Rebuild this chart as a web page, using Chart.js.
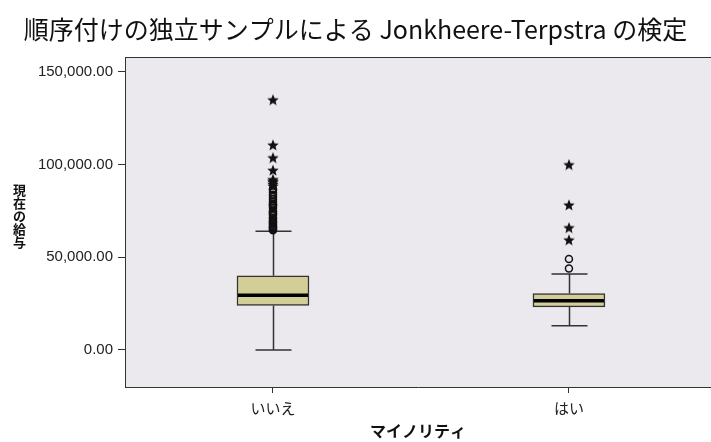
<!DOCTYPE html>
<html lang="ja">
<head>
<meta charset="utf-8">
<title>Jonkheere-Terpstra の検定</title>
<script src="https://cdn.jsdelivr.net/npm/chart.js@4.4.1/dist/chart.umd.min.js"></script>
<style>
  body { margin: 0; background: #fff; }
  #chart { display: block; }
</style>
</head>
<body>
<canvas id="chart" width="711" height="442"></canvas>
<script>
// values
const categories = ['いいえ', 'はい'];
const q1 = [24000, 23200];
const medians = [29500, 26500];
const q3 = [40000, 30400];
const whiskerLow = [0, 13000];
const whiskerHigh = [64000, 40900];
const circleOutliers = [
    [86750, 86250, 85000, 83750, 82500, 81250, 80000, 79000, 78250, 78125,
     77500, 76500, 75000, 74500, 73750, 73500, 72500, 71250, 71000, 70000,
     69250, 68750, 68125, 67500, 66875, 66250, 66000, 65500, 65000, 64500],
    [49000, 43900]
];
const starOutliers = [
    [135000, 110625, 103750, 97000, 92000, 91250, 90625, 89500, 88500],
    [100000, 78250, 66000, 59400]
];
const yTicks = [0, 50000, 100000, 150000];

const titleText = '順序付けの独立サンプルによる Jonkheere-Terpstra の検定';
const yTitle = '現在の給与';
const xTitle = 'マイノリティ';

const JP = "'Noto Sans CJK JP', sans-serif";
const BOX_WIDTH = 72;

// filled five-point star used as the extreme marker
function makeStar(size) {
    const c = document.createElement('canvas');
    c.width = size;
    c.height = size;
    const g = c.getContext('2d');
    const r = size / 2, ri = r * 0.45;
    g.beginPath();
    for (let k = 0; k < 10; k++) {
        const rad = k % 2 ? ri : r;
        const ang = -Math.PI / 2 + k * Math.PI / 5;
        g.lineTo(r + rad * Math.cos(ang), r + 0.6 + rad * Math.sin(ang));
    }
    g.closePath();
    g.fillStyle = '#111';
    g.fill();
    return c;
}
const starImg = makeStar(12);

const toPoints = (groups) => groups.flatMap((vals, i) => vals.map(v => ({ x: i, y: v })));

const boxParts = {
    id: 'boxParts',
    beforeDraw(chart) {
        const { ctx, chartArea: a } = chart;
        ctx.save();
        ctx.fillStyle = '#ebe9ee';
        ctx.fillRect(a.left, a.top, a.right - a.left, a.bottom - a.top);
        ctx.strokeStyle = '#333';
        ctx.lineWidth = 1;
        ctx.beginPath();
        ctx.moveTo(a.left, a.top + 0.5);
        ctx.lineTo(a.right, a.top + 0.5);
        ctx.stroke();
        ctx.restore();
    },
    beforeDatasetsDraw(chart) {
        const { ctx, scales: { x, y } } = chart;
        ctx.save();
        ctx.strokeStyle = '#333';
        ctx.lineWidth = 1.5;
        categories.forEach((c, i) => {
            const px = Math.round(x.getPixelForValue(i)) + 0.5;
            const half = BOX_WIDTH / 4;
            const yHi = y.getPixelForValue(whiskerHigh[i]);
            const yLo = y.getPixelForValue(whiskerLow[i]);
            ctx.beginPath();
            ctx.moveTo(px, yHi);
            ctx.lineTo(px, y.getPixelForValue(q3[i]));
            ctx.moveTo(px, y.getPixelForValue(q1[i]));
            ctx.lineTo(px, yLo);
            ctx.moveTo(px - half, yHi);
            ctx.lineTo(px + half, yHi);
            ctx.moveTo(px - half, yLo);
            ctx.lineTo(px + half, yLo);
            ctx.stroke();
        });
        ctx.restore();
    },
    afterDatasetDraw(chart, args) {
        if (args.index !== 0) return;
        const { ctx, scales: { x, y } } = chart;
        ctx.save();
        ctx.strokeStyle = '#000';
        ctx.lineWidth = 3.5;
        medians.forEach((m, i) => {
            const px = x.getPixelForValue(i);
            const py = y.getPixelForValue(m);
            ctx.beginPath();
            ctx.moveTo(px - BOX_WIDTH / 2 + 1, py);
            ctx.lineTo(px + BOX_WIDTH / 2 - 1, py);
            ctx.stroke();
        });
        ctx.restore();
    },
    afterDraw(chart) {
        // vertical y title, one character per line as in the original
        const { ctx } = chart;
        ctx.save();
        ctx.font = "bold 13px " + JP;
        ctx.fillStyle = '#111';
        ctx.textAlign = 'center';
        ctx.textBaseline = 'middle';
        const chars = Array.from(yTitle);
        const step = 12.8;
        const mid = 216;
        chars.forEach((ch, k) => {
            ctx.fillText(ch, 19.5, mid + (k - (chars.length - 1) / 2) * step);
        });
        ctx.restore();
    }
};

new Chart(document.getElementById('chart'), {
    type: 'bar',
    data: {
        datasets: [{
            data: categories.map((c, i) => ({ x: i, y: [q1[i], q3[i]] })),
            backgroundColor: '#d3ce97',
            borderColor: '#333',
            borderWidth: 1.5,
            borderSkipped: false,
            barThickness: BOX_WIDTH
        }, {
            type: 'scatter',
            data: toPoints(circleOutliers),
            pointStyle: 'circle',
            pointRadius: 3.5,
            backgroundColor: 'rgba(0,0,0,0)',
            borderColor: '#111',
            borderWidth: 1.5
        }, {
            type: 'scatter',
            data: toPoints(starOutliers),
            pointStyle: starImg,
            pointRadius: 6
        }]
    },
    options: {
        responsive: false,
        animation: false,
        // no automatic room for point markers: the plot runs to the right edge
        layout: { autoPadding: false, padding: 0 },
        plugins: {
            legend: { display: false },
            tooltip: { enabled: false },
            title: {
                display: true,
                text: titleText,
                color: '#111',
                font: { family: JP, size: 25, weight: 'normal' },
                padding: { top: 14, bottom: 13 }
            }
        },
        scales: {
            x: {
                type: 'linear',
                min: -0.5,
                max: 1.48,
                offset: false,
                afterBuildTicks: (s) => { s.ticks = categories.map((c, i) => ({ value: i })); },
                afterFit: (s) => { s.height = 55; },
                grid: { drawOnChartArea: false, offset: false, color: '#333', tickLength: 6 },
                border: { color: '#333', width: 1 },
                ticks: {
                    callback: (v) => categories[v],
                    color: '#222',
                    font: { family: JP, size: 15, lineHeight: 2 },
                    padding: 0,
                    maxRotation: 0
                },
                title: {
                    display: true,
                    text: xTitle,
                    color: '#111',
                    font: { family: JP, size: 16, weight: 'bold' },
                    padding: { top: 0, bottom: 1 }
                }
            },
            y: {
                min: -20000,
                max: 158000,
                afterBuildTicks: (s) => { s.ticks = yTicks.map(v => ({ value: v })); },
                afterFit: (s) => { s.width = 125; },
                grid: { drawOnChartArea: false, color: '#333', tickLength: 7 },
                border: { color: '#333', width: 1 },
                ticks: {
                    callback: (v) => v.toLocaleString('en-US', { minimumFractionDigits: 2, maximumFractionDigits: 2 }),
                    color: '#222',
                    font: { family: "'Liberation Sans', Arial, sans-serif", size: 15 },
                    padding: 5
                }
            }
        }
    },
    plugins: [boxParts]
});
</script>
</body>
</html>
